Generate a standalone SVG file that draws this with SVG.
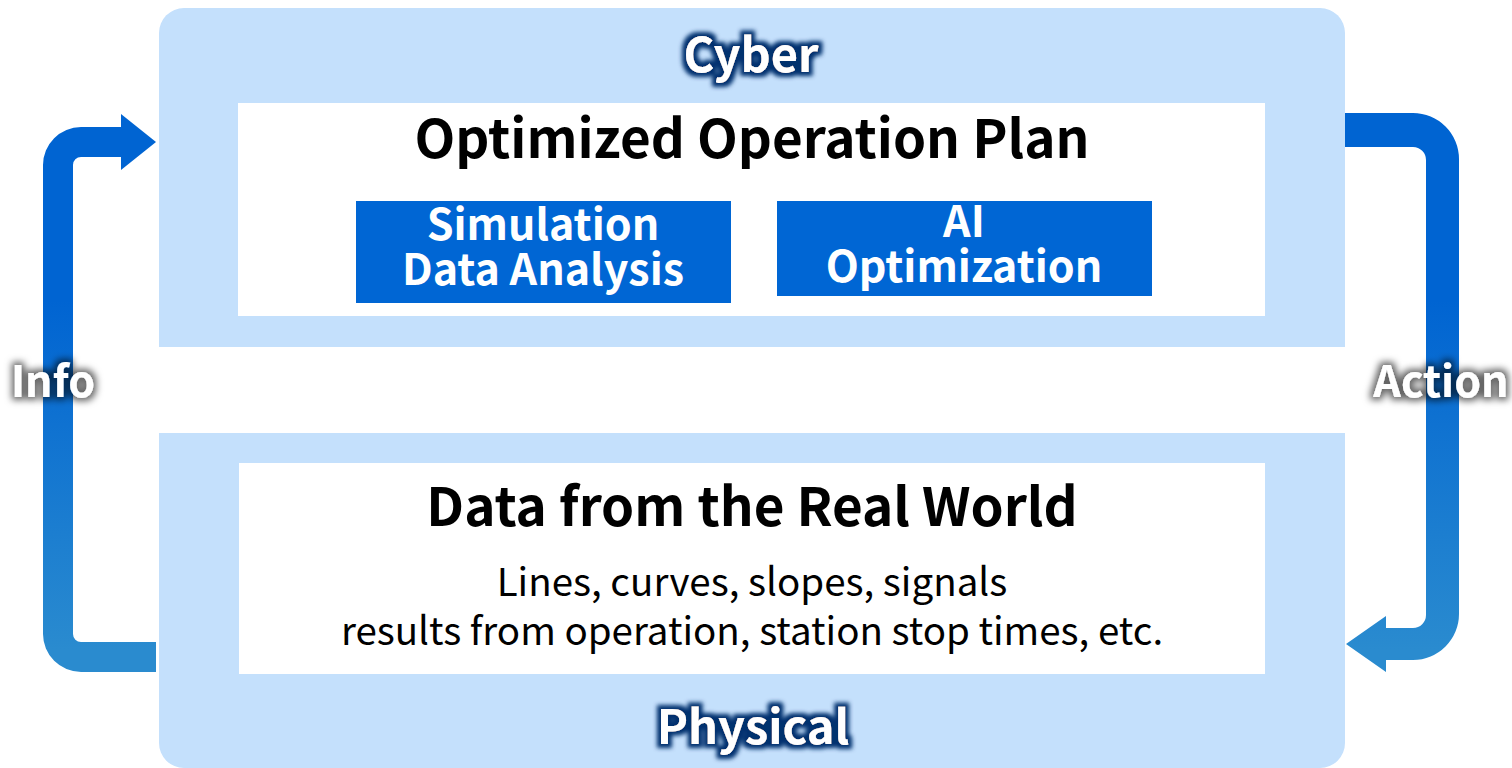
<svg xmlns="http://www.w3.org/2000/svg" width="1512" height="768" viewBox="0 0 1512 768">
<defs>
<linearGradient id="flow" gradientUnits="userSpaceOnUse" x1="0" y1="300" x2="0" y2="650">
<stop offset="0" stop-color="#0064d2"/>
<stop offset="1" stop-color="#2a8bcf"/>
</linearGradient>
<filter id="navyGlow" x="-20%" y="-40%" width="140%" height="180%">
<feMorphology in="SourceAlpha" operator="dilate" radius="3.5" result="d"/>
<feGaussianBlur in="d" stdDeviation="2.2" result="b"/>
<feFlood flood-color="#00306e"/>
<feComposite in2="b" operator="in" result="g"/>
<feMerge><feMergeNode in="g"/><feMergeNode in="SourceGraphic"/></feMerge>
</filter>
<filter id="greyGlow" x="-30%" y="-40%" width="160%" height="180%">
<feMorphology in="SourceAlpha" operator="dilate" radius="3" result="d"/>
<feGaussianBlur in="d" stdDeviation="3.5" result="b"/>
<feFlood flood-color="#000" flood-opacity="0.6"/>
<feComposite in2="b" operator="in" result="g"/>
<feMerge><feMergeNode in="g"/><feMergeNode in="SourceGraphic"/></feMerge>
</filter>
</defs>
<style>
text{font-family:"Noto Sans CJK JP","Noto Sans",sans-serif;text-anchor:middle}
.panel{fill:#c4e0fc}
.card{fill:#ffffff}
.tag{fill:#0066d4}
.big{font-size:53px;font-weight:700;fill:#000}
.tagt{font-size:43px;font-weight:700;fill:#fff}
.body{font-size:38.5px;font-weight:400;fill:#000}
.layer{font-size:47px;font-weight:700;fill:#fff;filter:url(#navyGlow)}
.flowl{font-size:43px;font-weight:700;fill:#fff;filter:url(#greyGlow)}
</style>
<g id="cyber">
<path class="panel" d="M159,347 V33 A25,25 0 0 1 184,8 H1320 A25,25 0 0 1 1345,33 V347 Z"/>
<text class="layer" x="751" y="72">Cyber</text>
</g>
<g id="physical">
<path class="panel" d="M159,433 H1345 V743 A25,25 0 0 1 1320,768 H184 A25,25 0 0 1 159,743 Z"/>
<text class="layer" x="753" y="744">Physical</text>
</g>
<g id="plan">
<rect class="card" x="238" y="103" width="1027" height="213"/>
<text class="big" x="752" y="158">Optimized Operation Plan</text>
</g>
<g id="simulation">
<rect class="tag" x="356" y="201" width="375" height="102"/>
<text class="tagt" x="543" y="240">Simulation</text>
<text class="tagt" x="543" y="285">Data Analysis</text>
</g>
<g id="ai">
<rect class="tag" x="777" y="201" width="375" height="95"/>
<text class="tagt" x="964" y="237">AI</text>
<text class="tagt" x="964" y="282">Optimization</text>
</g>
<g id="realworld">
<rect class="card" x="239" y="463" width="1026" height="211"/>
<text class="big" x="752" y="526">Data from the Real World</text>
<text class="body" x="752" y="596">Lines, curves, slopes, signals</text>
<text class="body" x="752" y="645">results from operation, station stop times, etc.</text>
</g>
<g id="connectors">
<path fill="url(#flow)" d="M156,142 L121,114 L121,127 L81,127 A38,38 0 0 0 43,165 L43,634 A38,38 0 0 0 81,672 L156,672 L156,642 L81,642 A8,8 0 0 1 73,634 L73,165 A8,8 0 0 1 81,157 L121,157 L121,170 Z"/>
<path fill="url(#flow)" d="M1345,113 L1413,113 A46,46 0 0 1 1459,159 L1459,614 A46,46 0 0 1 1413,660 L1386,660 L1386,672 L1346,644 L1386,616 L1386,628 L1413,628 A13,13 0 0 0 1426,615 L1426,160 A13,13 0 0 0 1413,147 L1345,147 Z"/>
<text class="flowl" x="53" y="397">Info</text>
<text class="flowl" x="1441" y="397">Action</text>
</g>
</svg>
